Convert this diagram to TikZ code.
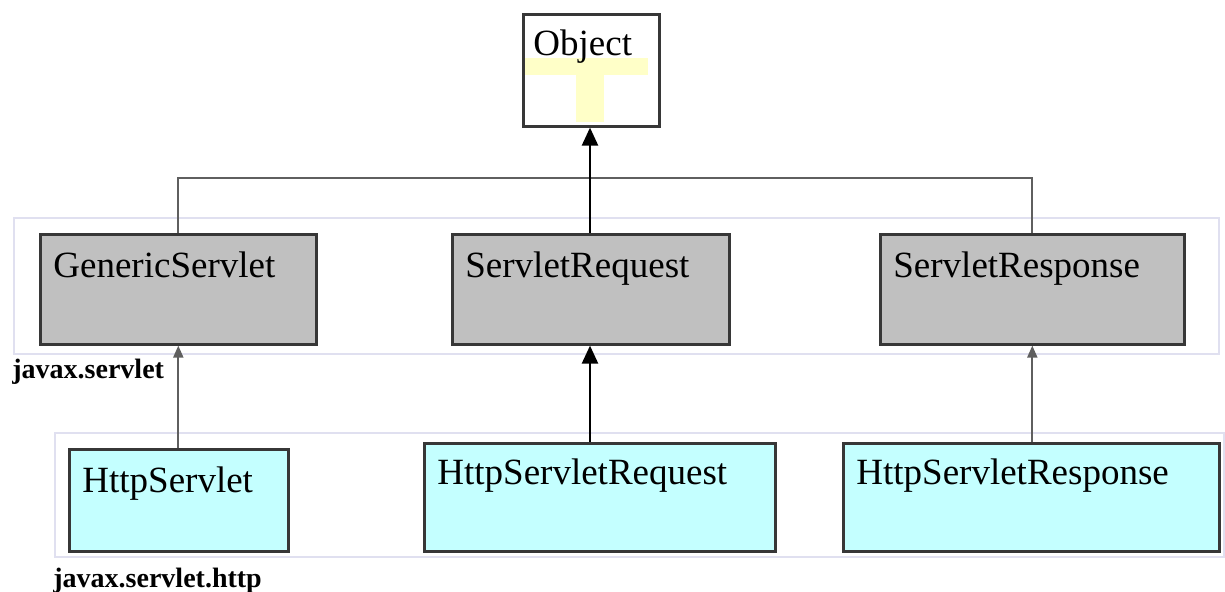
\documentclass[tikz,border=0pt]{standalone}
\usepackage{fontspec}
\setmainfont{Liberation Serif}
\usetikzlibrary{arrows.meta,calc}
\definecolor{boxline}{RGB}{55,55,55}
\definecolor{srvgray}{RGB}{192,192,192}
\definecolor{httpcyan}{RGB}{196,255,255}
\definecolor{pkgline}{RGB}{224,224,240}
\definecolor{glow}{RGB}{255,255,200}

\begin{document}
\begin{tikzpicture}[x=0.5pt, y=-0.5pt,
  cls/.style={draw=boxline, line width=1.3pt, inner sep=0pt, anchor=north west},
  txt/.style={anchor=north west, inner sep=0pt, xshift=7pt, yshift=-9pt,
    font=\fontsize{18.5}{22}\selectfont},
  pkg/.style={anchor=base west, inner sep=0pt, font=\fontsize{14}{16}\selectfont\bfseries},
  link/.style={draw=boxline!80, line width=1pt},
  inherit/.style={link, -{Triangle[length=6pt,width=5pt]}},
  inheritbig/.style={draw=black, line width=1.2pt, -{Triangle[length=9pt,width=8pt]}}]
\useasboundingbox (0,0) rectangle (1225,591);
% package frames
\draw[pkgline, line width=1pt] (14,218) rectangle (1219,354);
\draw[pkgline, line width=1pt] (55,433) rectangle (1224,557);
% classes
\fill[glow] (525,58) rectangle (648,75);
\fill[glow] (576,75) rectangle (604,122);
\node[cls, minimum width=68pt, minimum height=56pt,
  label={[txt, xshift=-1.5pt, yshift=1pt]north west:Object}] (object) at (522,13) {};
\node[cls, fill=srvgray, minimum width=138pt, minimum height=55pt,
  label={[txt]north west:GenericServlet}] (generic) at (39,233) {};
\node[cls, fill=srvgray, minimum width=138.5pt, minimum height=55pt,
  label={[txt]north west:ServletRequest}] (sreq) at (451,233) {};
\node[cls, fill=srvgray, minimum width=152pt, minimum height=55pt,
  label={[txt]north west:ServletResponse}] (sresp) at (879,233) {};
\node[cls, fill=httpcyan, minimum width=109.5pt, minimum height=51pt,
  label={[txt]north west:HttpServlet}] (hservlet) at (68,448) {};
\node[cls, fill=httpcyan, minimum width=175.5pt, minimum height=54pt,
  label={[txt, yshift=1pt]north west:HttpServletRequest}] (hreq) at (423,442) {};
\node[cls, fill=httpcyan, minimum width=188pt, minimum height=54pt,
  label={[txt, yshift=1pt]north west:HttpServletResponse}] (hresp) at (842,442) {};
% package names
\node[pkg] (pkgservlet) at (12,378) {javax.servlet};
\node[pkg] (pkghttp) at (53,587) {javax.servlet.http};
% inheritance
\coordinate (bus) at (590,178);
\draw[link] (generic.north) |- (bus) -| (sresp.north);
\draw[inheritbig] (sreq.north -| bus) -- (object.south -| bus);
\draw[inherit] (hservlet.north -| generic.south) -- (generic.south);
\draw[inheritbig] (hreq.north -| bus) -- (sreq.south -| bus);
\draw[inherit] (hresp.north -| sresp.south) -- (sresp.south);
\end{tikzpicture}
\end{document}
